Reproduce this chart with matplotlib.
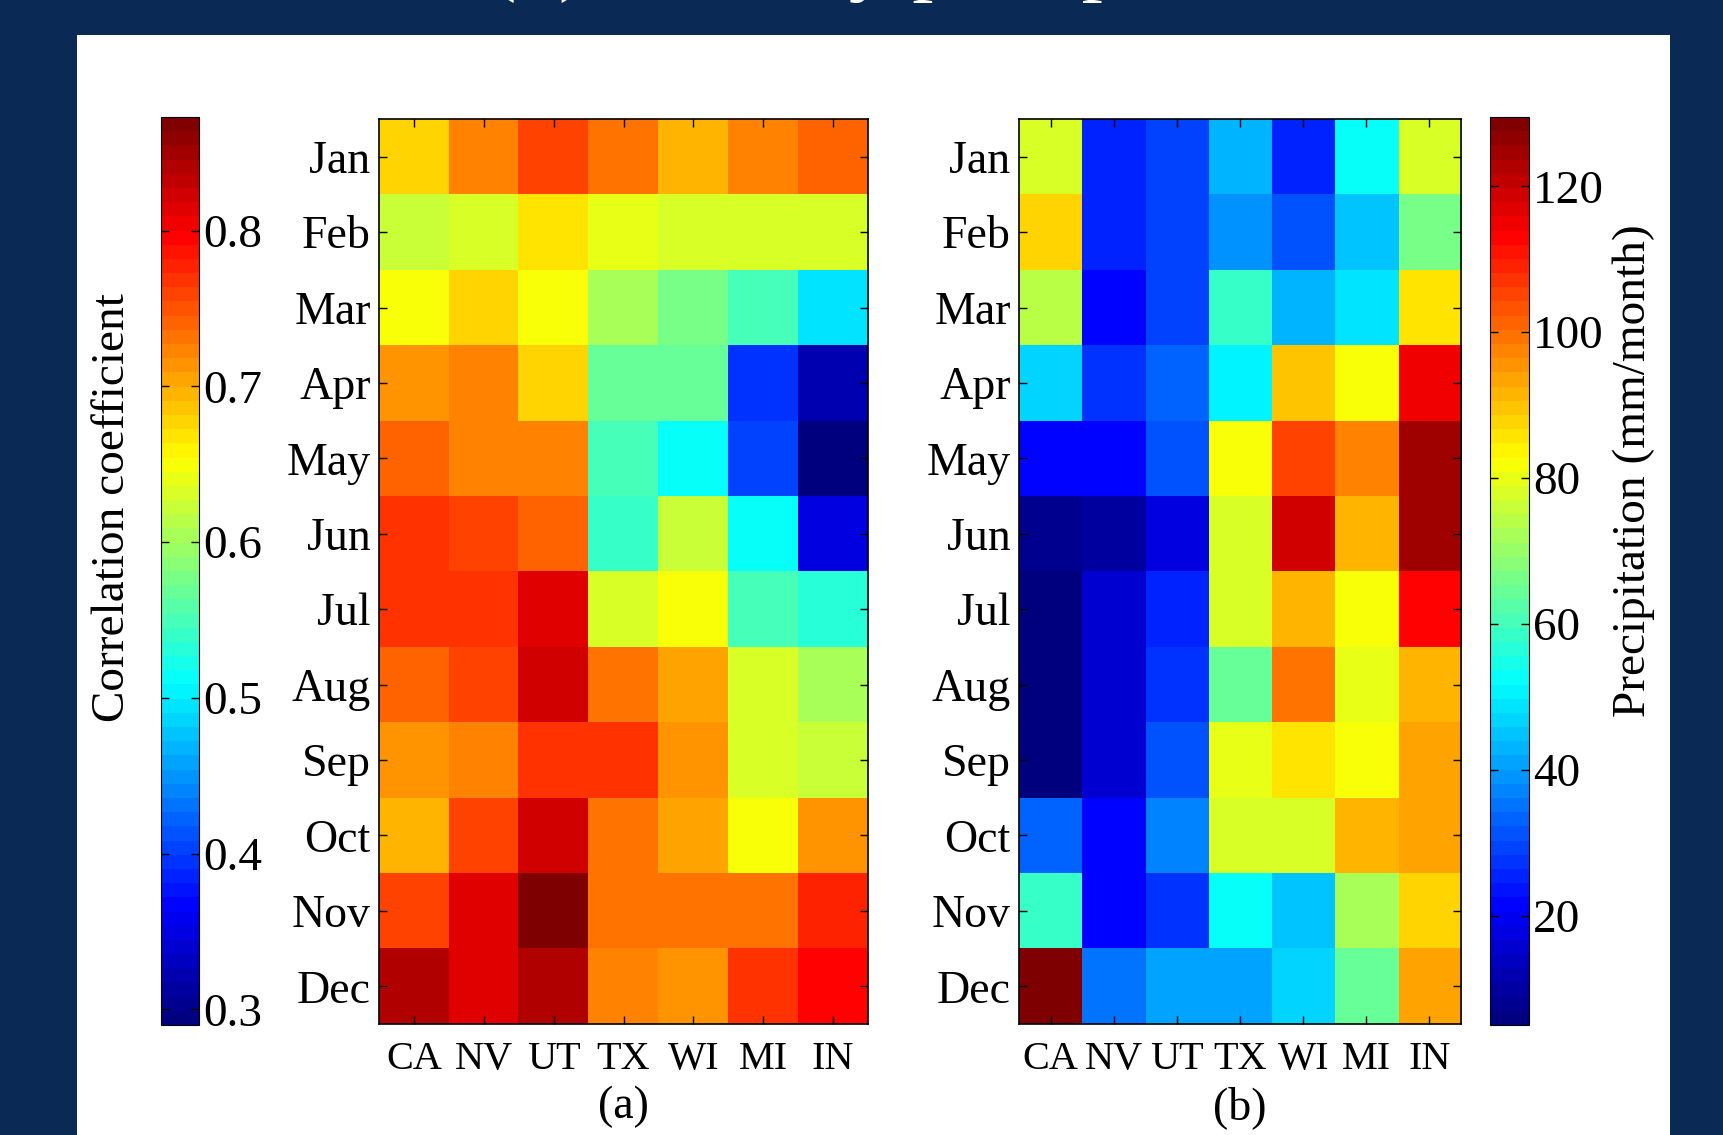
import numpy as np
import matplotlib.pyplot as plt
from matplotlib.colors import LinearSegmentedColormap
from matplotlib.patches import Rectangle

plt.rcParams['font.family'] = ['Liberation Serif', 'DejaVu Serif']

months = ['Jan', 'Feb', 'Mar', 'Apr', 'May', 'Jun',
          'Jul', 'Aug', 'Sep', 'Oct', 'Nov', 'Dec']
states = ['CA', 'NV', 'UT', 'TX', 'WI', 'MI', 'IN']

# (a) correlation coefficient, rows = months, cols = states
corr = np.array([
    [0.676, 0.720, 0.755, 0.736, 0.694, 0.727, 0.743],
    [0.621, 0.635, 0.667, 0.644, 0.630, 0.630, 0.634],
    [0.654, 0.673, 0.654, 0.600, 0.573, 0.554, 0.498],
    [0.710, 0.720, 0.673, 0.567, 0.567, 0.399, 0.326],
    [0.745, 0.727, 0.727, 0.554, 0.517, 0.408, 0.290],
    [0.772, 0.755, 0.745, 0.545, 0.618, 0.509, 0.345],
    [0.764, 0.764, 0.810, 0.628, 0.654, 0.554, 0.527],
    [0.745, 0.755, 0.819, 0.736, 0.701, 0.628, 0.608],
    [0.710, 0.727, 0.772, 0.772, 0.710, 0.633, 0.625],
    [0.691, 0.755, 0.826, 0.736, 0.701, 0.654, 0.710],
    [0.755, 0.810, 0.873, 0.736, 0.736, 0.736, 0.780],
    [0.837, 0.810, 0.845, 0.720, 0.710, 0.764, 0.800],
])

# (b) precipitation (mm/month)
precip = np.array([
    [77.2, 25.5, 29.3, 43.3, 25.0, 51.7, 77.5],
    [87.5, 25.5, 29.3, 39.2, 32.2, 45.5, 65.4],
    [73.2, 22.4, 29.3, 57.6, 43.3, 49.5, 85.3],
    [47.6, 28.3, 33.3, 49.8, 89.0, 82.8, 114.0],
    [22.4, 22.4, 32.2, 82.8, 104.3, 96.8, 125.5],
    [8.1, 10.3, 16.8, 77.2, 119.5, 91.2, 125.5],
    [5.0, 15.0, 24.5, 77.2, 91.2, 82.8, 112.1],
    [5.5, 15.0, 28.3, 64.1, 98.4, 80.6, 91.2],
    [6.9, 15.0, 32.2, 80.6, 85.0, 82.8, 92.8],
    [33.3, 22.4, 38.0, 77.5, 78.8, 91.2, 94.3],
    [57.6, 20.6, 26.5, 51.7, 45.5, 71.3, 86.9],
    [129.5, 34.3, 40.2, 41.7, 47.6, 63.4, 94.3],
])

corr_ticks = [0.3, 0.4, 0.5, 0.6, 0.7, 0.8]
precip_ticks = [20, 40, 60, 80, 100, 120]

# MATLAB-style jet with 64 levels
jet64 = LinearSegmentedColormap.from_list(
    'jet64', [(0.0, (0, 0, 0.5)), (0.125, (0, 0, 1)), (0.375, (0, 1, 1)),
              (0.625, (1, 1, 0)), (0.875, (1, 0, 0)), (1.0, (0.5, 0, 0))], N=64)

W, H = 1723, 1135
navy = '#0a2955'
fs = 33

fig = plt.figure(figsize=(W / 100, H / 100), dpi=100, facecolor=navy)
fig.patches.append(Rectangle((77 / W, 0), (1670 - 77) / W, 1 - 35 / H,
                             transform=fig.transFigure, facecolor='white',
                             edgecolor='none', zorder=-5))

# title line, mostly cut off at the top of the slide
fig.text(-466 / W, 1 + 15 / H, 'Correlation coefficient, and (b) monthly precipitation',
         color='white', fontsize=61, ha='left', va='baseline')


def px_axes(x0, x1, y0, y1):
    return fig.add_axes([x0 / W, 1 - y1 / H, (x1 - x0) / W, (y1 - y0) / H])


def heatmap(ax, data, vmin, vmax, tag):
    im = ax.imshow(data, cmap=jet64, vmin=vmin, vmax=vmax, aspect='auto',
                   interpolation='nearest')
    ax.set_xticks(range(len(states)))
    ax.set_xticklabels(states, fontsize=29)
    ax.set_yticks(range(len(months)))
    ax.set_yticklabels(months, fontsize=fs)
    ax.tick_params(direction='in', top=True, right=True, length=6, width=1)
    ax.tick_params(axis='x', pad=12)
    ax.tick_params(axis='y', pad=6)
    ax.set_xlabel(tag, fontsize=fs, labelpad=6)
    for s in ax.spines.values():
        s.set_linewidth(1.2)
    return im


ax1 = px_axes(379, 868, 119, 1024)
im1 = heatmap(ax1, corr, 0.29, 0.873, '(a)')

ax2 = px_axes(1019, 1461, 119, 1024)
im2 = heatmap(ax2, precip, 5, 129.5, '(b)')

cax1 = px_axes(161, 199, 117, 1025)
cb1 = fig.colorbar(im1, cax=cax1, ticks=corr_ticks)
cax2 = px_axes(1490, 1529, 117, 1025)
cb2 = fig.colorbar(im2, cax=cax2, ticks=precip_ticks)
for cax in (cax1, cax2):
    cax.tick_params(direction='in', left=True, right=True, labelleft=False,
                    labelright=True, length=6, width=1, labelsize=34, pad=3)

fig.text(113 / W, 1 - 508 / H, 'Correlation coefficient', rotation=90,
         fontsize=34, ha='center', va='center')
fig.text(1634 / W, 1 - 471 / H, 'Precipitation (mm/month)', rotation=90,
         fontsize=34, ha='center', va='center')

fig.savefig('out.png', dpi=100, facecolor=navy)
